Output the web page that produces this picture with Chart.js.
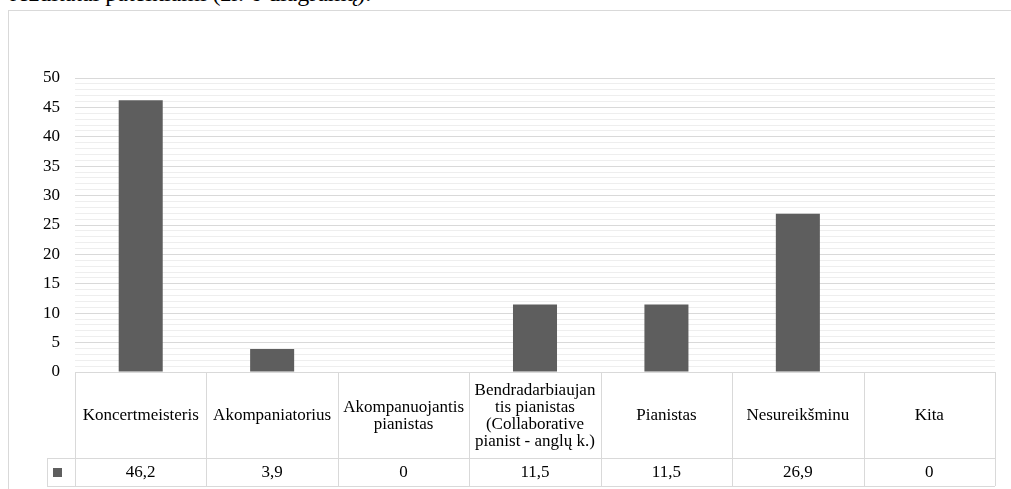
<!DOCTYPE html>
<html>
<head>
<meta charset="utf-8">
<script src="https://cdn.jsdelivr.net/npm/chart.js@4"></script>
<style>
  html, body { margin: 0; padding: 0; background: #fff; overflow: hidden; }
  #wrap { position: relative; width: 1011px; height: 489px; }
  #cap { position: absolute; left: 10px; top: -20px; font-family: "Liberation Serif", serif; font-size: 24px; color: #000; white-space: nowrap; }
  #frame { position: absolute; left: 8px; top: 10px; width: 1100px; height: 600px; border: 1px solid #d9d9d9; box-sizing: border-box; }
  canvas { position: absolute; left: 0; top: 0; }
</style>
</head>
<body>
<div id="wrap">
  <div id="cap">rezultatai pateikiami (žr. 6 diagramą).</div>
  <div id="frame"></div>
  <canvas id="c" width="1011" height="489"></canvas>
</div>
<script>
const categories = [
  ["Koncertmeisteris"],
  ["Akompaniatorius"],
  ["Akompanuojantis", "pianistas"],
  ["Bendradarbiaujan", "tis pianistas", "(Collaborative", "pianist - anglų k.)"],
  ["Pianistas"],
  ["Nesureikšminu"],
  ["Kita"]
];
const values = [46.2, 3.9, 0, 11.5, 11.5, 26.9, 0];
const yTicksMajor = [0, 5, 10, 15, 20, 25, 30, 35, 40, 45, 50];

const FONT = '"Liberation Serif", "Times New Roman", serif';
const GRID_MAJOR = '#d9d9d9';
const GRID_MINOR = '#eeeeee';
const BAR = '#5e5e5e';

const tablePlugin = {
  id: 'dataTable',
  afterDraw(chart) {
    const ctx = chart.ctx;
    const x = chart.scales.x;
    const area = chart.chartArea;
    const n = categories.length;
    const half = (x.getPixelForValue(1) - x.getPixelForValue(0)) / 2;
    const top = area.bottom;
    const midY = top + 86;
    const botY = midY + 28;
    const legendLeft = 47;
    ctx.save();
    ctx.strokeStyle = GRID_MAJOR;
    ctx.lineWidth = 1;
    const L = x.getPixelForValue(0) - half;
    const R = x.getPixelForValue(n - 1) + half;
    ctx.beginPath();
    ctx.moveTo(L, top + 0.5); ctx.lineTo(R, top + 0.5);
    ctx.moveTo(legendLeft, midY + 0.5); ctx.lineTo(R, midY + 0.5);
    ctx.moveTo(legendLeft, botY + 0.5); ctx.lineTo(R, botY + 0.5);
    ctx.moveTo(legendLeft + 0.5, midY); ctx.lineTo(legendLeft + 0.5, botY);
    for (let i = 0; i <= n; i++) {
      const px = Math.round(x.getPixelForValue(i) - half) + 0.5;
      ctx.moveTo(px, top); ctx.lineTo(px, botY);
    }
    ctx.stroke();

    ctx.fillStyle = '#000';
    ctx.font = '17px ' + FONT;
    ctx.textAlign = 'center';
    ctx.textBaseline = 'middle';
    const lh = 17;
    categories.forEach((lines, i) => {
      const cx = x.getPixelForValue(i);
      const cy = (top + midY) / 2;
      const start = cy - (lines.length - 1) * lh / 2;
      lines.forEach((ln, j) => ctx.fillText(ln, cx, start + j * lh + 1));
      ctx.fillText(String(values[i]).replace('.', ','), cx, (midY + botY) / 2 + 1);
    });
    ctx.fillStyle = BAR;
    ctx.fillRect(53, (midY + botY) / 2 - 4, 9, 9);
    ctx.restore();
  }
};

new Chart(document.getElementById('c'), {
  type: 'bar',
  data: {
    labels: categories,
    datasets: [{
      data: values,
      backgroundColor: BAR,
      borderWidth: 0,
      barPercentage: 0.335,
      categoryPercentage: 1
    }]
  },
  options: {
    responsive: false,
    animation: false,
    events: [],
    layout: { padding: { left: 0, right: 16, top: 78, bottom: 117 } },
    plugins: { legend: { display: false }, tooltip: { enabled: false } },
    scales: {
      x: { display: false, offset: true },
      y: {
        min: 0, max: 50,
        afterFit(scale) { scale.width = 75; },
        border: { display: false },
        grid: {
          drawTicks: false,
          color: c => (c.tick && c.tick.value % 5 === 0) ? GRID_MAJOR : GRID_MINOR,
          lineWidth: 1
        },
        ticks: {
          stepSize: 1,
          autoSkip: false,
          padding: 15,
          color: '#000',
          font: { family: FONT, size: 17 },
          callback: v => yTicksMajor.includes(v) ? String(v) : ''
        }
      }
    }
  },
  plugins: [tablePlugin]
});
</script>
</body>
</html>
